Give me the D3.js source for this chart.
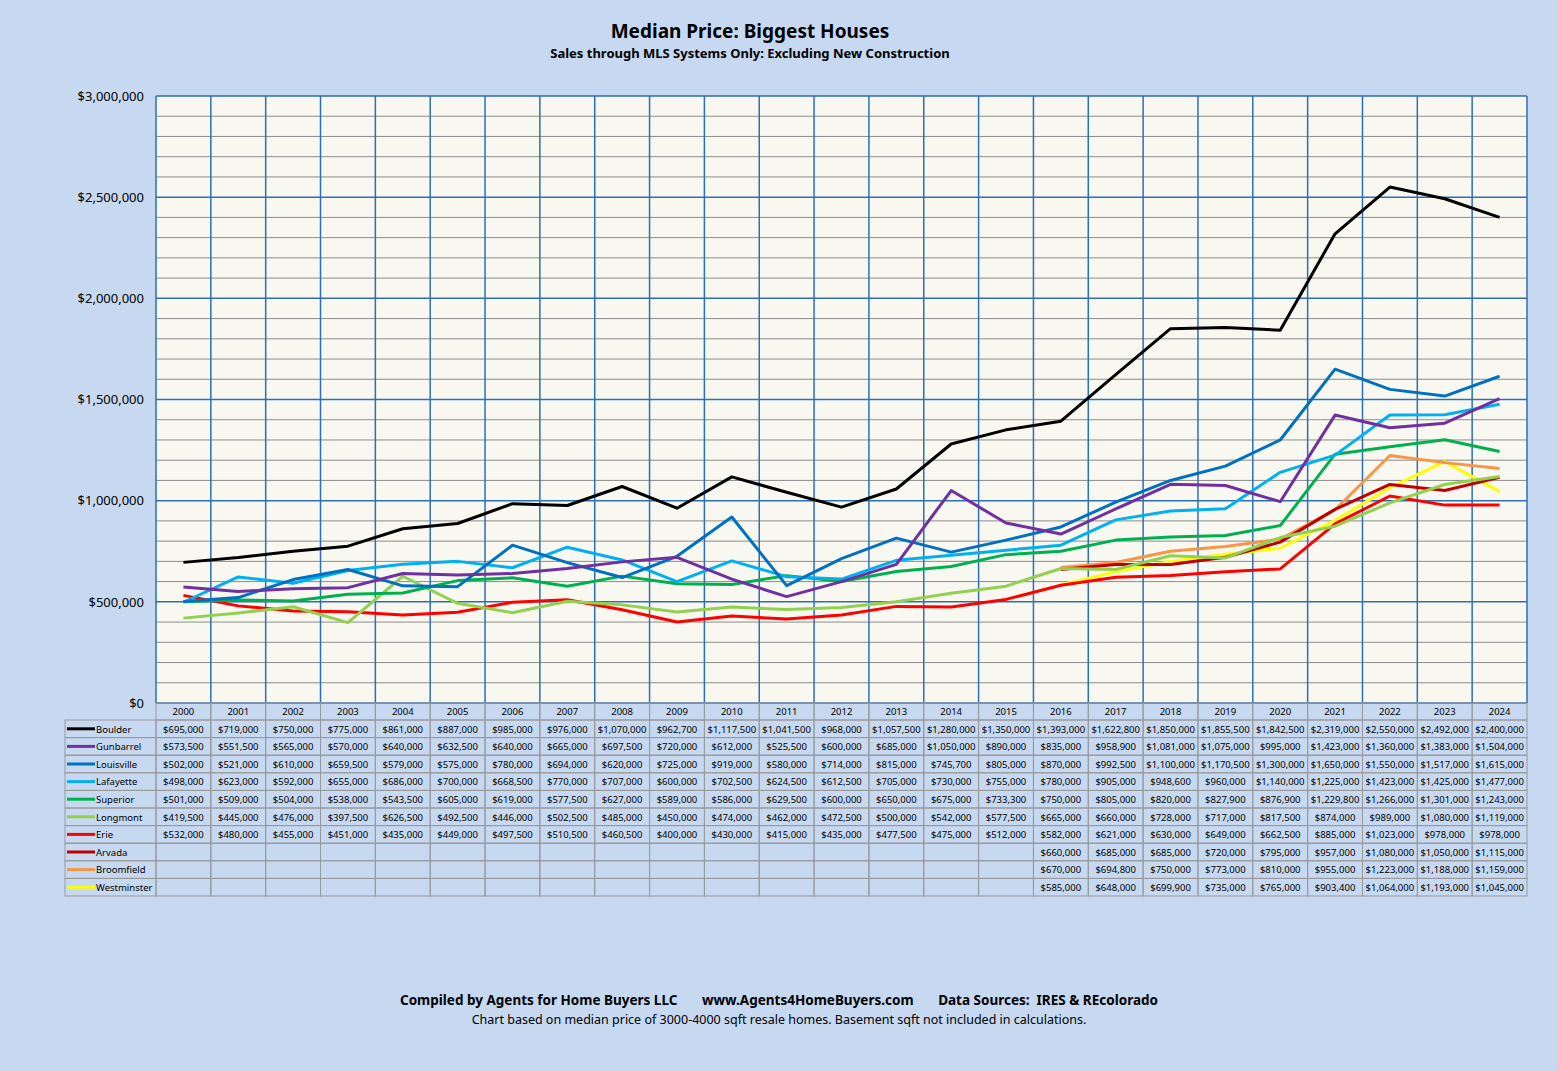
<!DOCTYPE html>
<html><head><meta charset="utf-8">
<script src="https://cdn.jsdelivr.net/npm/d3@7"></script>
<style>body{margin:0;background:#c6d9f1;font-family:"Noto Sans",sans-serif}</style>
</head><body><svg id="c"></svg>
<script>
const years = [2000,2001,2002,2003,2004,2005,2006,2007,2008,2009,2010,2011,2012,2013,2014,2015,2016,2017,2018,2019,2020,2021,2022,2023,2024];
const N = null;
const boulder = [695000,719000,750000,775000,861000,887000,985000,976000,1070000,962700,1117500,1041500,968000,1057500,1280000,1350000,1393000,1622800,1850000,1855500,1842500,2319000,2550000,2492000,2400000];
const gunbarrel = [573500,551500,565000,570000,640000,632500,640000,665000,697500,720000,612000,525500,600000,685000,1050000,890000,835000,958900,1081000,1075000,995000,1423000,1360000,1383000,1504000];
const louisville = [502000,521000,610000,659500,579000,575000,780000,694000,620000,725000,919000,580000,714000,815000,745700,805000,870000,992500,1100000,1170500,1300000,1650000,1550000,1517000,1615000];
const lafayette = [498000,623000,592000,655000,686000,700000,668500,770000,707000,600000,702500,624500,612500,705000,730000,755000,780000,905000,948600,960000,1140000,1225000,1423000,1425000,1477000];
const superior = [501000,509000,504000,538000,543500,605000,619000,577500,627000,589000,586000,629500,600000,650000,675000,733300,750000,805000,820000,827900,876900,1229800,1266000,1301000,1243000];
const longmont = [419500,445000,476000,397500,626500,492500,446000,502500,485000,450000,474000,462000,472500,500000,542000,577500,665000,660000,728000,717000,817500,874000,989000,1080000,1119000];
const erie = [532000,480000,455000,451000,435000,449000,497500,510500,460500,400000,430000,415000,435000,477500,475000,512000,582000,621000,630000,649000,662500,885000,1023000,978000,978000];
const arvada = [N,N,N,N,N,N,N,N,N,N,N,N,N,N,N,N,660000,685000,685000,720000,795000,957000,1080000,1050000,1115000];
const broomfield = [N,N,N,N,N,N,N,N,N,N,N,N,N,N,N,N,670000,694800,750000,773000,810000,955000,1223000,1188000,1159000];
const westminster = [N,N,N,N,N,N,N,N,N,N,N,N,N,N,N,N,585000,648000,699900,735000,765000,903400,1064000,1193000,1045000];
const series = [
  {name:"Boulder", values:boulder, color:"#000000"},
  {name:"Gunbarrel", values:gunbarrel, color:"#7030a0"},
  {name:"Louisville", values:louisville, color:"#0070c0"},
  {name:"Lafayette", values:lafayette, color:"#00b0f0"},
  {name:"Superior", values:superior, color:"#00b050"},
  {name:"Longmont", values:longmont, color:"#92d050"},
  {name:"Erie", values:erie, color:"#ff0000"},
  {name:"Arvada", values:arvada, color:"#c00000"},
  {name:"Broomfield", values:broomfield, color:"#f79646"},
  {name:"Westminster", values:westminster, color:"#ffff00"}
];

const W = 1558, H = 1071;
const L = 156, R = 1527, T = 96, B = 703;
const svg = d3.select("#c").attr("width", W).attr("height", H);
svg.append("rect").attr("width", W).attr("height", H).attr("fill", "#c6d9f1");

const x = d3.scaleBand().domain(years).range([L, R]);
const y = d3.scaleLinear().domain([0, 3000000]).range([B, T]);

svg.append("rect").attr("x", L).attr("y", T).attr("width", R - L).attr("height", B - T).attr("fill", "#f8f8f0");

// minor gridlines
svg.append("g").selectAll("line").data(d3.range(0, 3000001, 100000).filter(v => v % 500000))
  .join("line").attr("x1", L).attr("x2", R).attr("y1", d => y(d)).attr("y2", d => y(d))
  .attr("stroke", "#8c8c8c").attr("stroke-width", 1);
// vertical grid
svg.append("g").selectAll("line").data(years.concat([null]))
  .join("line")
  .attr("x1", (d, i) => L + i * x.bandwidth()).attr("x2", (d, i) => L + i * x.bandwidth())
  .attr("y1", T).attr("y2", B).attr("stroke", "#2e6eb5").attr("stroke-width", 1.5);
// major gridlines
svg.append("g").selectAll("line").data(d3.range(0, 3000001, 500000))
  .join("line").attr("x1", L).attr("x2", R).attr("y1", d => y(d)).attr("y2", d => y(d))
  .attr("stroke", "#2e6eb5").attr("stroke-width", 1.5);

// y axis labels
const yAxis = svg.append("g").attr("transform", `translate(${L},0)`)
  .call(d3.axisLeft(y).tickValues(d3.range(0, 3000001, 500000)).tickFormat(d3.format("$,")).tickSize(0).tickPadding(12));
yAxis.select(".domain").remove();
yAxis.selectAll("text").attr("font-size", 13).attr("fill", "#000").attr("font-family", "Noto Sans");

// lines
const line = d3.line().defined(d => d != null)
  .x((d, i) => x(years[i]) + x.bandwidth() / 2).y(d => y(d));
svg.append("g").selectAll("path").data(series.slice().reverse()).join("path")
  .attr("d", d => line(d.values)).attr("fill", "none")
  .attr("stroke", d => d.color).attr("stroke-width", 3).attr("stroke-linejoin", "round");

// data table
const rowH = 17.6, headTop = B, tableTop = 720, tableLeft = 65;
const tg = svg.append("g").attr("font-family", "Noto Sans").attr("font-size", 9.5);
// year header cells
years.forEach((yr, i) => {
  tg.append("rect").attr("x", x(yr)).attr("y", headTop).attr("width", x.bandwidth()).attr("height", tableTop - headTop)
    .attr("fill", "none").attr("stroke", "#999");
  tg.append("text").attr("x", x(yr) + x.bandwidth() / 2).attr("y", headTop + 12).attr("text-anchor", "middle").text(yr);
});
const fmt = d3.format("$,");
series.forEach((s, r) => {
  const yy = tableTop + r * rowH;
  tg.append("rect").attr("x", tableLeft).attr("y", yy).attr("width", L - tableLeft).attr("height", rowH)
    .attr("fill", "none").attr("stroke", "#999");
  tg.append("line").attr("x1", tableLeft + 2).attr("x2", tableLeft + 30).attr("y1", yy + rowH / 2).attr("y2", yy + rowH / 2)
    .attr("stroke", s.color).attr("stroke-width", 3);
  tg.append("text").attr("x", tableLeft + 31).attr("y", yy + 12.5).text(s.name);
  s.values.forEach((v, i) => {
    tg.append("rect").attr("x", x(years[i])).attr("y", yy).attr("width", x.bandwidth()).attr("height", rowH)
      .attr("fill", "none").attr("stroke", "#999");
    if (v != null) tg.append("text").attr("x", x(years[i]) + x.bandwidth() / 2).attr("y", yy + 12.5)
      .attr("text-anchor", "middle").text(fmt(v));
  });
});

// titles
svg.append("text").attr("x", 750).attr("y", 38).attr("text-anchor", "middle").attr("font-size", 19).attr("font-weight", "bold").text("Median Price: Biggest Houses");
svg.append("text").attr("x", 750).attr("y", 58).attr("text-anchor", "middle").attr("font-size", 13).attr("font-weight", "bold").text("Sales through  MLS Systems Only: Excluding  New Construction");
svg.append("text").attr("x", 779).attr("y", 1005).attr("text-anchor", "middle").attr("font-size", 13.5).attr("font-weight", "bold").attr("xml:space", "preserve")
  .text("Compiled by Agents for Home Buyers LLC       www.Agents4HomeBuyers.com       Data Sources:  IRES & REcolorado");
svg.append("text").attr("x", 779).attr("y", 1024).attr("text-anchor", "middle").attr("font-size", 12.5)
  .text("Chart based on median price of 3000-4000 sqft resale homes.  Basement sqft not included in calculations.");
</script></body></html>
